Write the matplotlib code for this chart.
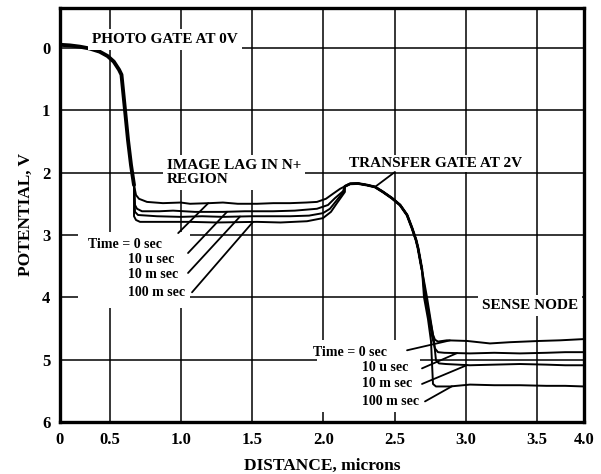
import numpy as np
import matplotlib
matplotlib.use("Agg")
import matplotlib.pyplot as plt
from matplotlib.patches import Rectangle

# ---------------------------------------------------------------- data
time_labels = ["Time = 0 sec", "10 u sec", "10 m sec", "100 m sec"]

# photo gate and the drop into the N+ region (shared by all times)
gate_x = [0.00, 0.10, 0.20, 0.30, 0.40, 0.48, 0.53, 0.567, 0.584, 0.609, 0.630, 0.651, 0.672]
gate_v = [-0.05, -0.04, -0.02, 0.01, 0.06, 0.13, 0.22, 0.35, 0.43, 1.00, 1.48, 1.88, 2.20]

# N+ region, one profile per time
nplus_x_0 = [0.686, 0.707, 0.763, 0.875, 1.00, 1.065, 1.20, 1.296, 1.40, 1.535, 1.65, 1.767, 1.88, 1.956, 2.019, 2.068, 2.118]
nplus_v_0 = [2.36, 2.42, 2.47, 2.49, 2.48, 2.50, 2.49, 2.48, 2.50, 2.50, 2.49, 2.49, 2.48, 2.47, 2.42, 2.34, 2.26]
nplus_x_1 = [0.679, 0.693, 0.728, 0.85, 0.946, 1.10, 1.296, 1.45, 1.647, 1.80, 1.956, 2.033, 2.082, 2.138]
nplus_v_1 = [2.52, 2.58, 2.62, 2.62, 2.61, 2.63, 2.63, 2.62, 2.62, 2.61, 2.58, 2.52, 2.41, 2.30]
nplus_x_2 = [0.679, 0.700, 0.833, 1.00, 1.15, 1.296, 1.50, 1.767, 1.90, 1.998, 2.047, 2.096, 2.145]
nplus_v_2 = [2.63, 2.68, 2.70, 2.71, 2.70, 2.71, 2.70, 2.70, 2.69, 2.65, 2.58, 2.44, 2.30]
nplus_x_3 = [0.672, 0.686, 0.714, 0.85, 1.065, 1.25, 1.535, 1.70, 1.886, 1.998, 2.054, 2.096, 2.152]
nplus_v_3 = [2.70, 2.76, 2.79, 2.79, 2.79, 2.80, 2.79, 2.80, 2.78, 2.73, 2.63, 2.49, 2.31]

# transfer gate barrier (shared)
hump_x = [2.152, 2.188, 2.244, 2.307, 2.363, 2.419, 2.482, 2.539, 2.588, 2.623, 2.651, 2.665, 2.693]
hump_v = [2.22, 2.18, 2.175, 2.20, 2.23, 2.31, 2.41, 2.52, 2.68, 2.89, 3.08, 3.21, 3.56]

# drop into the sense node, one profile per time
sense_x_0 = [2.721, 2.749, 2.770, 2.784, 2.805, 2.868, 3.009, 3.17, 3.311, 3.53, 3.745, 4.0]
sense_v_0 = [4.00, 4.35, 4.60, 4.68, 4.71, 4.69, 4.70, 4.74, 4.72, 4.70, 4.69, 4.67]
sense_x_1 = [2.714, 2.742, 2.763, 2.784, 2.805, 2.85, 3.03, 3.20, 3.38, 3.60, 3.80, 4.0]
sense_v_1 = [4.00, 4.35, 4.62, 4.82, 4.88, 4.89, 4.90, 4.89, 4.90, 4.89, 4.88, 4.88]
sense_x_2 = [2.728, 2.756, 2.777, 2.791, 2.812, 2.86, 3.03, 3.20, 3.38, 3.60, 3.80, 4.0]
sense_v_2 = [4.00, 4.40, 4.70, 5.01, 5.06, 5.07, 5.09, 5.08, 5.07, 5.08, 5.09, 5.09]
sense_x_3 = [2.707, 2.735, 2.756, 2.770, 2.791, 2.89, 3.03, 3.20, 3.38, 3.60, 3.80, 4.0]
sense_v_3 = [4.00, 4.35, 4.70, 5.39, 5.43, 5.43, 5.40, 5.41, 5.41, 5.42, 5.42, 5.43]

x_ticks = [0, 0.5, 1.0, 1.5, 2.0, 2.5, 3.0, 3.5, 4.0]
x_tick_labels = ["0", "0.5", "1.0", "1.5", "2.0", "2.5", "3.0", "3.5", "4.0"]
y_ticks = [0, 1, 2, 3, 4, 5, 6]
y_tick_labels = ["0", "1", "2", "3", "4", "5", "6"]

# ---------------------------------------------------------------- axis scale
# the distance axis has compressed end intervals (0-0.5 and 3.5-4.0)
_XK = np.array([0.0, 0.5, 3.5, 4.0])
_PK = np.array([0.0, 49.5, 477.0, 524.0])


def _fwd(x):
    x = np.asarray(x, dtype=float)
    y = np.interp(x, _XK, _PK)
    y = np.where(x < 0, x * 99.0, y)
    y = np.where(x > 4, 524.0 + (x - 4.0) * 94.0, y)
    return y


def _inv(p):
    p = np.asarray(p, dtype=float)
    x = np.interp(p, _PK, _XK)
    x = np.where(p < 0, p / 99.0, x)
    x = np.where(p > 524, 4.0 + (p - 524.0) / 94.0, x)
    return x


# ---------------------------------------------------------------- figure
SERIF = ["Liberation Serif", "DejaVu Serif"]
plt.rcParams["font.family"] = SERIF
plt.rcParams["font.weight"] = "bold"

fig = plt.figure(figsize=(6.01, 4.74), dpi=100)
ax = fig.add_axes([60 / 601, 1 - 422 / 474, 524 / 601, 414 / 474])
ax.set_xscale("function", functions=(_fwd, _inv))
ax.set_xlim(0, 4.0)
ax.set_ylim(6.0, -0.64)

ax.set_xticks(x_ticks)
ax.set_xticklabels(x_tick_labels)
ax.set_yticks(y_ticks)
ax.set_yticklabels(y_tick_labels)
ax.tick_params(length=0, pad=7, labelsize=12)
for lab in ax.get_xticklabels() + ax.get_yticklabels():
    lab.set_fontweight("bold")

ax.set_axisbelow(True)
ax.grid(True, color="black", lw=1.1)
for sp in ax.spines.values():
    sp.set_linewidth(2.4)

ax.set_xlabel("DISTANCE, microns", fontsize=12.5, fontweight="bold", labelpad=7)
ax.set_ylabel("POTENTIAL, V", fontsize=12.5, fontweight="bold", labelpad=6)

# white areas behind the time-label blocks
ax.add_patch(Rectangle((0.182, 2.95), 1.065 - 0.182, 4.17 - 2.95,
                       facecolor="white", edgecolor="none", zorder=1))
ax.add_patch(Rectangle((1.957, 4.69), 2.68 - 1.957, 5.84 - 4.69,
                       facecolor="white", edgecolor="none", zorder=1))

# ---------------------------------------------------------------- curves
nplus_x = [nplus_x_0, nplus_x_1, nplus_x_2, nplus_x_3]
nplus_v = [nplus_v_0, nplus_v_1, nplus_v_2, nplus_v_3]
sense_x = [sense_x_0, sense_x_1, sense_x_2, sense_x_3]
sense_v = [sense_v_0, sense_v_1, sense_v_2, sense_v_3]

for i in range(4):
    xs = gate_x + nplus_x[i] + hump_x + sense_x[i]
    vs = gate_v + nplus_v[i] + hump_v + sense_v[i]
    ax.plot(xs, vs, color="black", lw=1.4, zorder=2, solid_joinstyle="round")

ax.plot(gate_x, gate_v, color="black", lw=2.8, zorder=2.1, solid_capstyle="round")
ax.plot(hump_x, hump_v, color="black", lw=2.0, zorder=2.1, solid_capstyle="round")

# ---------------------------------------------------------------- annotations
box = dict(facecolor="white", edgecolor="none", pad=1.5)
ax.text(0.323, -0.13, "PHOTO GATE AT 0V", fontsize=11, fontweight="bold",
        ha="left", va="center", bbox=dict(facecolor="white", edgecolor="none", pad=3), zorder=3)
ax.text(0.903, 2.0, "IMAGE LAG IN N+\nREGION", fontsize=11, fontweight="bold",
        ha="left", va="center", linespacing=1.1,
        bbox=dict(facecolor="white", edgecolor="none", pad=3), zorder=3)
ax.text(2.785, 1.85, "TRANSFER GATE AT 2V", fontsize=11, fontweight="bold",
        ha="center", va="center", bbox=box, zorder=3)
ax.text(3.45, 4.13, "SENSE NODE", fontsize=11, fontweight="bold",
        ha="center", va="center", bbox=dict(facecolor="white", edgecolor="none", pad=3), zorder=3)

# time labels in the N+ region
nplus_lab_x = [0.283, 0.63, 0.63, 0.63]
nplus_lab_v = [3.16, 3.39, 3.64, 3.92]
nplus_lead_from = [(0.982, 2.97), (1.051, 3.29), (1.051, 3.61), (1.079, 3.92)]
nplus_lead_x = [1.193, 1.325, 1.416, 1.507]
for i in range(4):
    ax.text(nplus_lab_x[i], nplus_lab_v[i], time_labels[i], fontsize=10,
            fontweight="bold", ha="left", va="center", zorder=3)
    tx = nplus_lead_x[i]
    tv = float(np.interp(tx, nplus_x[i], nplus_v[i]))
    ax.annotate("", xy=(tx, tv), xytext=nplus_lead_from[i],
                arrowprops=dict(arrowstyle="-", lw=1.3, color="black",
                                shrinkA=0, shrinkB=0), zorder=3)

# time labels at the sense node
sense_lab_x = [1.93, 2.272, 2.272, 2.272]
sense_lab_v = [4.88, 5.12, 5.39, 5.67]
sense_lead_from = [(2.588, 4.85), (2.693, 5.14), (2.693, 5.39), (2.714, 5.67)]
sense_lead_x = [2.889, 2.939, 3.009, 2.903]
for i in range(4):
    ax.text(sense_lab_x[i], sense_lab_v[i], time_labels[i], fontsize=10,
            fontweight="bold", ha="left", va="center", zorder=3)
    tx = sense_lead_x[i]
    tv = float(np.interp(tx, sense_x[i], sense_v[i]))
    ax.annotate("", xy=(tx, tv), xytext=sense_lead_from[i],
                arrowprops=dict(arrowstyle="-", lw=1.3, color="black",
                                shrinkA=0, shrinkB=0), zorder=3)

# leader for the transfer gate
tg_x = 2.363
tg_v = float(np.interp(tg_x, hump_x, hump_v))
ax.annotate("", xy=(tg_x, tg_v), xytext=(2.503, 1.99),
            arrowprops=dict(arrowstyle="-", lw=1.3, color="black",
                            shrinkA=0, shrinkB=0), zorder=3)

fig.savefig("out.png", dpi=100)
